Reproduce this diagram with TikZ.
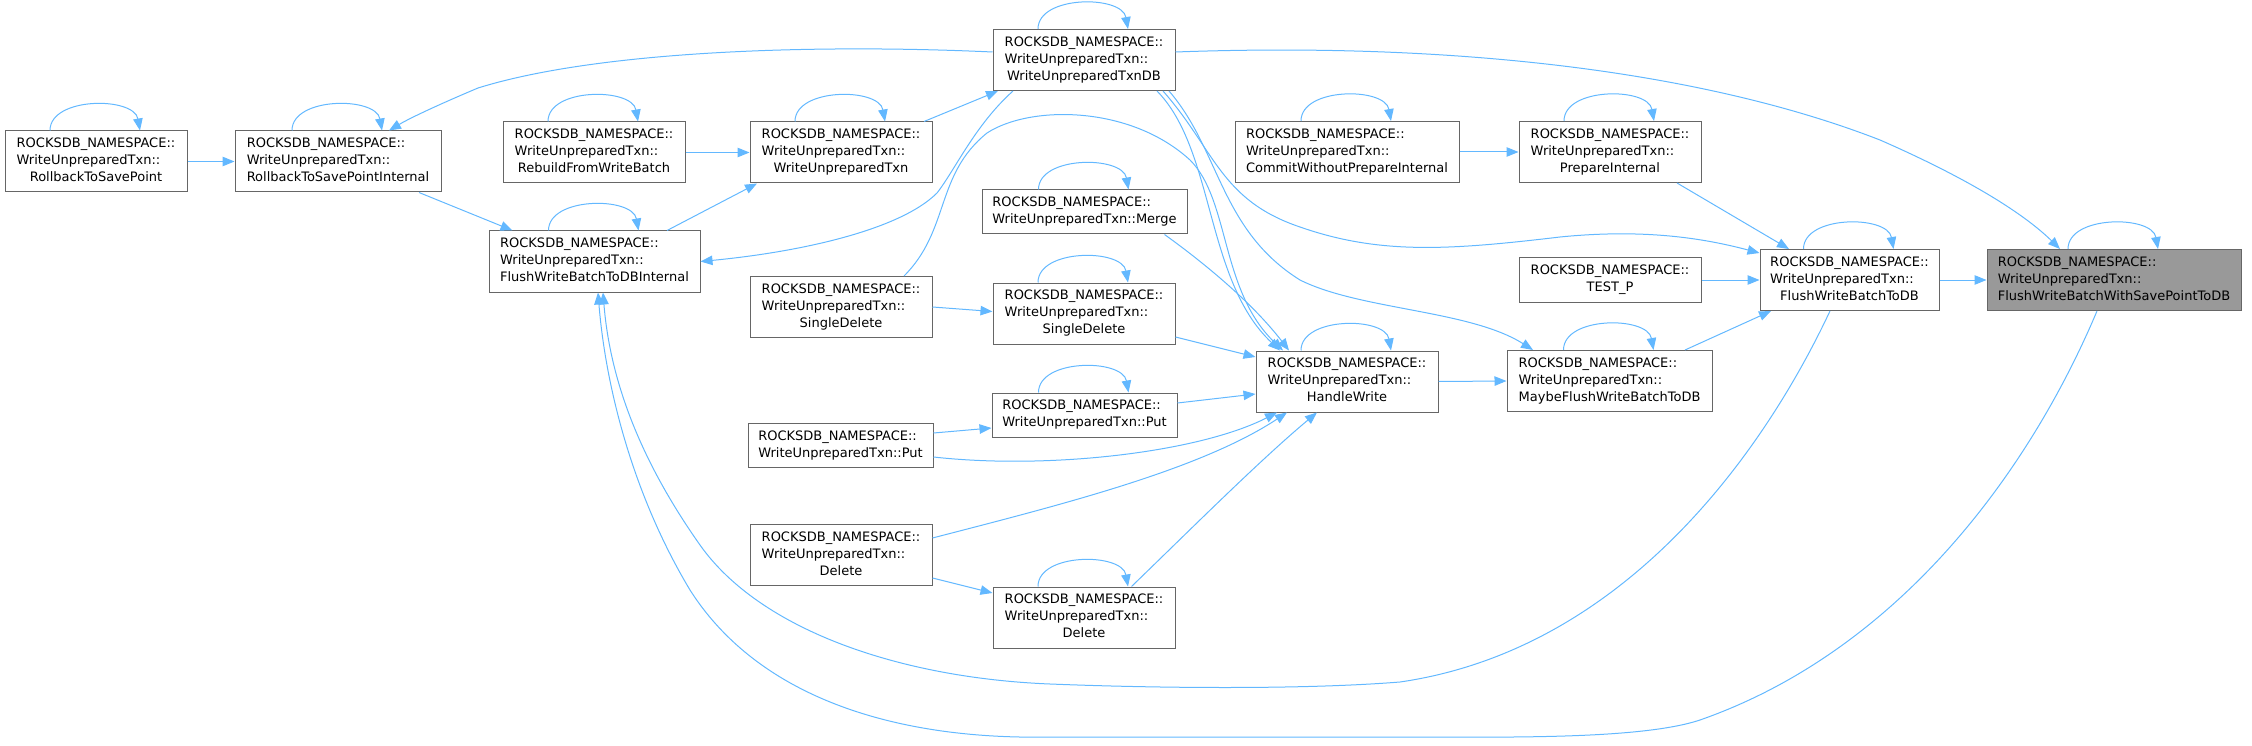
\documentclass[tikz,border=0pt]{standalone}
\usepackage{fontspec}
\setmainfont{DejaVu Sans}
\usetikzlibrary{arrows.meta}
\definecolor{edgeblue}{HTML}{63B8FF}
\definecolor{boxgray}{HTML}{666666}
\definecolor{hlgray}{HTML}{999999}
\newcommand{\lab}[2]{\begin{tabular}{@{}l@{}}#1\\\multicolumn{1}{@{}c@{}}{#2}\end{tabular}}
\newcommand{\RN}{ROCKSDB\_NAMESPACE::}
\newcommand{\WT}{WriteUnpreparedTxn::}
\newcommand{\selfloop}[1]{\draw[edge] ([xshift=-46pt]#1.north) .. controls +(0,-34) and +(-6,-34) .. ([xshift=44pt]#1.north);}
\begin{document}
\begin{tikzpicture}[x=1pt,y=-1pt,
  edge/.style={draw=edgeblue,line width=1pt,-{Triangle[length=12pt,width=9.5pt]}},
  box/.style={draw=boxgray,fill=white,line width=1pt,inner sep=0pt,text=black,
    font=\fontsize{13}{17}\selectfont,minimum width=182pt,minimum height=61pt}]
\useasboundingbox (0,0) rectangle (2252,746);

% nodes
\node[box] (rts) at (96,161.5) {\lab{\RN\\\WT}{RollbackToSavePoint}};
\node[box,minimum width=206pt] (rtsi) at (338,161.5) {\lab{\RN\\\WT}{RollbackToSavePointInternal}};
\node[box] (rfwb) at (594,152.5) {\lab{\RN\\\WT}{RebuildFromWriteBatch}};
\node[box,minimum width=211pt] (fwbi) at (594.5,261.5) {\lab{\RN\\\WT}{FlushWriteBatchToDBInternal}};
\node[box] (wut) at (841,152.5) {\lab{\RN\\\WT}{WriteUnpreparedTxn}};
\node[box] (wutdb) at (1084,60) {\lab{\RN\\\WT}{WriteUnpreparedTxnDB}};
\node[box,minimum width=205pt,minimum height=44pt] (merge) at (1084.5,212) {\lab{\RN}{WriteUnpreparedTxn::Merge}};
\node[box] (sdl) at (841,307) {\lab{\RN\\\WT}{SingleDelete}};
\node[box] (sdr) at (1084,313.5) {\lab{\RN\\\WT}{SingleDelete}};
\node[box,minimum width=185pt,minimum height=44pt] (putr) at (1084.5,415) {\lab{\RN}{WriteUnpreparedTxn::Put}};
\node[box,minimum width=185pt,minimum height=44pt] (putl) at (840.5,445.5) {\lab{\RN}{WriteUnpreparedTxn::Put}};
\node[box] (dell) at (841,555) {\lab{\RN\\\WT}{Delete}};
\node[box] (delr) at (1084,617.5) {\lab{\RN\\\WT}{Delete}};
\node[box] (hw) at (1347,381.5) {\lab{\RN\\\WT}{HandleWrite}};
\node[box,minimum width=224pt] (cwpi) at (1347,152) {\lab{\RN\\\WT}{CommitWithoutPrepareInternal}};
\node[box] (pi) at (1610,152) {\lab{\RN\\\WT}{PrepareInternal}};
\node[box,minimum height=44pt] (testp) at (1610,280) {\lab{\RN}{TEST\_P}};
\node[box,minimum width=205pt] (mfwb) at (1609.5,381) {\lab{\RN\\\WT}{MaybeFlushWriteBatchToDB}};
\node[box,minimum width=179pt] (fwb) at (1849.5,280) {\lab{\RN\\\WT}{FlushWriteBatchToDB}};
\node[box,minimum width=254pt,fill=hlgray] (fwbwsp) at (2114,280) {\lab{\RN\\\WT}{FlushWriteBatchWithSavePointToDB}};

% self loops
\foreach \n in {rts,rtsi,rfwb,fwbi,wut,wutdb,merge,sdr,putr,delr,hw,cwpi,pi,mfwb,fwb,fwbwsp}{\selfloop{\n}}

% straight edges
\draw[edge] (rts.east) -- (rtsi.west);
\draw[edge] ([xshift=81pt]rtsi.south) -- ([xshift=-82pt]fwbi.north);
\draw[edge] ([xshift=72.5pt]fwbi.north) -- ([xshift=-84pt]wut.south);
\draw[edge] (rfwb.east) -- (wut.west);
\draw[edge] ([xshift=83pt]wut.north) -- ([xshift=-86pt]wutdb.south);
\draw[edge] (sdl.east) -- ([yshift=2pt]sdr.west);
\draw[edge] ([yshift=-23.5pt]sdr.east) -- ([yshift=24.5pt]hw.west);
\draw[edge] ([yshift=12.5pt]putl.east) -- ([yshift=-13pt]putr.west);
\draw[edge] ([yshift=12pt]putr.east) -- ([yshift=-12.5pt]hw.west);
\draw[edge] ([yshift=-23pt]dell.east) -- ([yshift=24.5pt]delr.west);
\draw[edge] (hw.east) -- (mfwb.west);
\draw[edge] (cwpi.east) -- (pi.west);
\draw[edge] ([xshift=67pt]pi.south) -- ([xshift=-60.5pt]fwb.north);
\draw[edge] (testp.east) -- (fwb.west);
\draw[edge] ([xshift=75.5pt]mfwb.north) -- ([xshift=-78.5pt]fwb.south);
\draw[edge] (fwb.east) -- (fwbwsp.west);

% curved edges
\draw[edge] ([yshift=8pt]wutdb.west) .. controls (820,44) and (600,50) .. (478,88)
  .. controls (440,104) and (410,118) .. ([xshift=51pt]rtsi.north);
\draw[edge] ([xshift=-71pt]wutdb.south) .. controls (975,125) and (955,170) .. (937,193)
  .. controls (900,230) and (800,252) .. (fwbi.east);
\draw[edge] ([xshift=63pt]sdl.north) .. controls (950,230) and (935,175) .. (987,133)
  .. controls (1030,105) and (1130,105) .. (1190,160)
  .. controls (1230,200) and (1220,290) .. ([xshift=-64pt]hw.north);
\draw[edge] ([xshift=80pt]merge.south) .. controls (1200,260) and (1250,300) .. ([xshift=-58pt]hw.north);
\draw[edge] ([xshift=73pt]wutdb.south) .. controls (1215,150) and (1205,280) .. ([xshift=-67pt]hw.north);
\draw[edge] ([xshift=79pt]wutdb.south) .. controls (1215,150) and (1220,200) .. (1300,227)
  .. controls (1380,255) and (1450,250) .. (1560,237)
  .. controls (1650,228) and (1710,240) .. ([yshift=27pt]fwb.west);
\draw[edge] ([xshift=85pt]wutdb.south) .. controls (1220,150) and (1220,230) .. (1300,280)
  .. controls (1360,310) and (1470,310) .. ([xshift=-76.5pt]mfwb.north);
\draw[edge] ([yshift=8pt]wutdb.east) .. controls (1450,42) and (1700,70) .. (1880,140)
  .. controls (1960,175) and (2020,210) .. ([xshift=-54pt]fwbwsp.north);
\draw[edge] ([yshift=-11.5pt]putl.east) .. controls (1050,470) and (1200,452) .. ([xshift=-70pt]hw.south);
\draw[edge] ([yshift=17pt]dell.east) .. controls (1060,505) and (1200,470) .. ([xshift=-60pt]hw.south);
\draw[edge] ([xshift=47.5pt]delr.north) .. controls (1190,530) and (1260,460) .. ([xshift=-30pt]hw.south);
\draw[edge] ([xshift=-19.5pt]fwb.south) .. controls (1760,460) and (1620,650) .. (1400,682)
  .. controls (1300,690) and (1150,688) .. (1050,684)
  .. controls (900,678) and (760,630) .. (700,545)
  .. controls (640,460) and (610,380) .. ([xshift=8.5pt]fwbi.south);
\draw[edge] ([xshift=-17pt]fwbwsp.south) .. controls (2030,470) and (1900,650) .. (1700,720)
  .. controls (1640,740) and (1500,737) .. (1400,737) -- (1050,737)
  .. controls (900,740) and (760,700) .. (690,590)
  .. controls (630,490) and (605,380) .. ([xshift=3.5pt]fwbi.south);
\end{tikzpicture}
\end{document}
